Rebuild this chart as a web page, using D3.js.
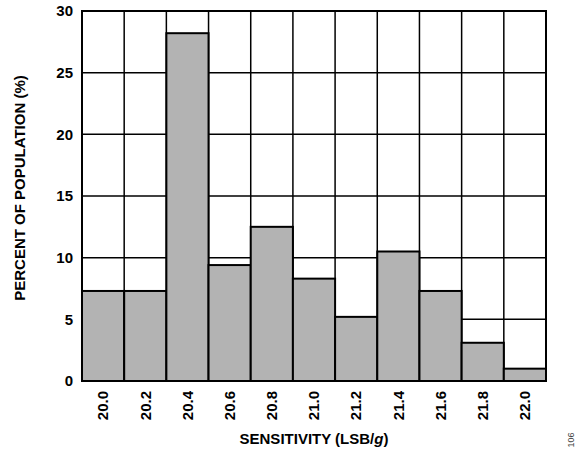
<!DOCTYPE html>
<html>
<head>
<meta charset="utf-8">
<script src="https://cdn.jsdelivr.net/npm/d3@7"></script>
<style>
  body { margin: 0; background: #fff; }
  text { font-family: "Liberation Sans", Arial, sans-serif; font-weight: bold; fill: #000; }
</style>
</head>
<body>
<div class="chart"></div>
<script>
// sensitivity bins and percent of population
let bins = ["20.0","20.2","20.4","20.6","20.8","21.0","21.2","21.4","21.6","21.8","22.0"];
let percents = [7.3, 7.3, 28.2, 9.4, 12.5, 8.3, 5.2, 10.5, 7.3, 3.1, 1.0];
let yTicks = [0, 5, 10, 15, 20, 25, 30];

let width = 586, height = 454;
let margin = {left: 82, right: 40, top: 11, bottom: 73};
let w = width - margin.left - margin.right;
let h = height - margin.top - margin.bottom;

let svg = d3.select(".chart").append("svg").attr("width", width).attr("height", height);
let g = svg.append("g").attr("transform", "translate(" + margin.left + "," + margin.top + ")");

let xScale = d3.scaleBand().domain(bins).range([0, w]).padding(0);
let yScale = d3.scaleLinear().domain([0, 30]).range([h, 0]);

// horizontal grid
g.append("g").selectAll("line").data(yTicks).enter().append("line")
  .attr("x1", 0).attr("x2", w)
  .attr("y1", d => yScale(d)).attr("y2", d => yScale(d))
  .attr("stroke", "#000").attr("stroke-width", 1.5);

// vertical grid at bin edges
g.append("g").selectAll("line").data(bins).enter().append("line")
  .attr("x1", d => xScale(d)).attr("x2", d => xScale(d))
  .attr("y1", 0).attr("y2", h)
  .attr("stroke", "#000").attr("stroke-width", 1.5);

// bars
g.append("g").selectAll("rect").data(percents).enter().append("rect")
  .attr("x", (d, i) => xScale(bins[i]))
  .attr("y", d => yScale(d))
  .attr("width", xScale.bandwidth())
  .attr("height", d => h - yScale(d))
  .attr("fill", "#b3b3b3")
  .attr("stroke", "#000")
  .attr("stroke-width", 2);

// frame
g.append("rect").attr("x", 0).attr("y", 0).attr("width", w).attr("height", h)
  .attr("fill", "none").attr("stroke", "#000").attr("stroke-width", 2);

// y axis labels
let yAxis = d3.axisLeft(yScale).tickValues(yTicks).tickSize(0).tickPadding(9);
let ya = g.append("g").call(yAxis);
ya.select(".domain").remove();
ya.selectAll("text").style("font-size", "15px").style("font-family", "Liberation Sans, Arial, sans-serif");

// x axis labels, rotated
let xAxis = d3.axisBottom(xScale).tickSize(0);
let xa = g.append("g").attr("transform", "translate(0," + h + ")").call(xAxis);
xa.select(".domain").remove();
xa.selectAll("text")
  .style("font-size", "15px").style("font-family", "Liberation Sans, Arial, sans-serif")
  .attr("text-anchor", "end")
  .attr("dy", "0.35em")
  .attr("transform", "translate(0,10)rotate(-90)")
  .attr("x", 0).attr("y", 0);

// axis titles
let xt = svg.append("text")
  .attr("x", margin.left + w / 2).attr("y", 444)
  .attr("text-anchor", "middle").style("font-size", "15px");
xt.append("tspan").text("SENSITIVITY (LSB/");
xt.append("tspan").style("font-style", "italic").text("g");
xt.append("tspan").text(")");

svg.append("text")
  .attr("transform", "translate(25," + (margin.top + h / 2 - 8) + ")rotate(-90)")
  .attr("text-anchor", "middle").style("font-size", "15px")
  .text("PERCENT OF POPULATION (%)");

svg.append("text")
  .attr("transform", "translate(574,440)rotate(-90)")
  .attr("text-anchor", "middle")
  .style("font-size", "9px").style("font-weight", "normal").style("fill", "#444")
  .text("106");
</script>
</body>
</html>
